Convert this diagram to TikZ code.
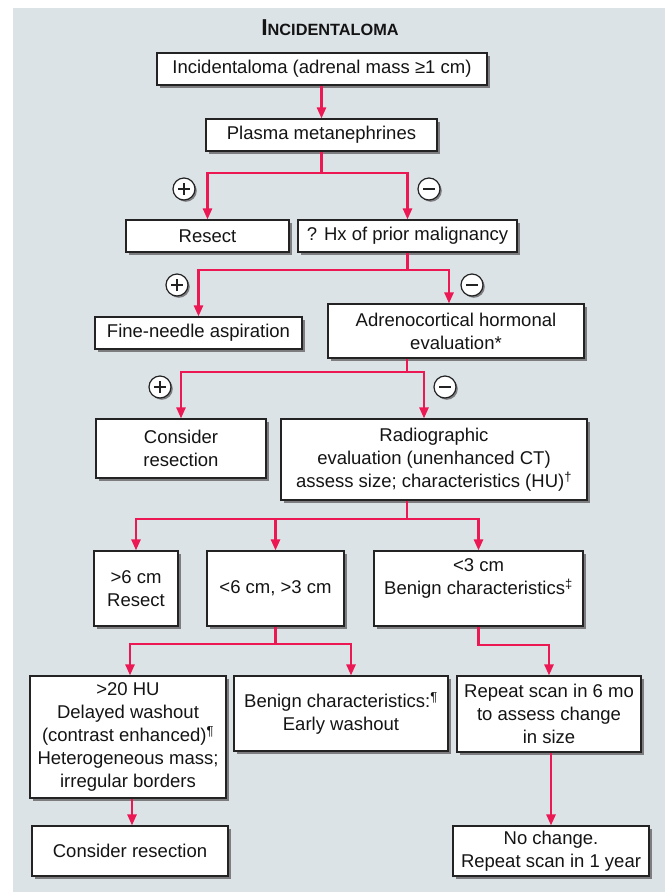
\documentclass[tikz,border=0pt]{standalone}
\usepackage{fontspec}
\setmainfont{Liberation Sans}
\usetikzlibrary{arrows.meta,shadows,calc}
\definecolor{panel}{RGB}{220,227,231}
\definecolor{flow}{RGB}{236,24,84}
\definecolor{boxline}{RGB}{35,35,35}
\definecolor{shadowgray}{RGB}{125,125,128}
\definecolor{txt}{RGB}{20,20,20}
\newcommand{\boxfont}{\fontsize{18.5}{23}\selectfont}
\tikzset{
  box/.style={draw=boxline, line width=1.1pt, fill=white, inner sep=0pt, align=center,
    font=\boxfont, text=txt,
    drop shadow={shadow xshift=2.5pt, shadow yshift=-2.5pt, fill=shadowgray, opacity=1}},
  arr/.style={draw=flow, line width=2.4pt, -{Triangle[length=11pt,width=9pt]}},
  sign/.style={circle, draw=boxline, line width=1.2pt, fill=white, minimum size=22pt, inner sep=0pt,
    drop shadow={shadow xshift=1.8pt, shadow yshift=-1.8pt, fill=shadowgray, opacity=1}},
  plussign/.style={sign, path picture={
    \draw[line width=2.6pt, boxline] ([xshift=-6pt]path picture bounding box.center) -- ([xshift=6pt]path picture bounding box.center);
    \draw[line width=2.6pt, boxline] ([yshift=-6pt]path picture bounding box.center) -- ([yshift=6pt]path picture bounding box.center);}},
  minussign/.style={sign, path picture={
    \draw[line width=2.6pt, boxline] ([xshift=-6pt]path picture bounding box.center) -- ([xshift=6pt]path picture bounding box.center);}}
}
\begin{document}
\begin{tikzpicture}[x=1pt,y=-1pt]
\useasboundingbox (0,0) rectangle (665,892);
\fill[panel] (13,7.5) rectangle (665,892);

\node[anchor=base, text=txt, font=\bfseries] (title) at (330,35)
  {\fontsize{23}{23}\selectfont I\fontsize{16.3}{16}\selectfont NCIDENTALOMA};

% boxes
\node[box, minimum width=330pt, minimum height=32pt] (b1) at (322,69) {Incidentaloma (adrenal mass ≥1 cm)};
\node[box, minimum width=231pt, minimum height=32pt] (b2) at (321.5,135) {Plasma metanephrines};
\node[box, minimum width=163pt, minimum height=32pt] (resect) at (207.5,236) {Resect};
\node[box, minimum width=219pt, minimum height=32pt] (hx) at (407.5,236) {? Hx of prior malignancy};
\node[box, minimum width=207pt, minimum height=32pt] (fna) at (198.5,333) {Fine-needle aspiration};
\node[box, minimum width=256pt, minimum height=54pt] (adreno) at (456,331) {Adrenocortical hormonal\\evaluation*};
\node[box, minimum width=170pt, minimum height=59pt] (cons1) at (181,448.5) {Consider\\resection};
\node[box, minimum width=306pt, minimum height=81pt] (radio) at (434,459.5) {Radiographic\\evaluation (unenhanced CT)\\assess size; characteristics (HU)\textsuperscript{†}};
\node[box, minimum width=84pt, minimum height=75pt] (gt6) at (136,588.5) {>6 cm\\Resect};
\node[box, minimum width=137pt, minimum height=75pt] (mid) at (275.5,588.5) {<6 cm, >3 cm};
\node[box, minimum width=209pt, minimum height=75pt] (lt3) at (478.5,588.5) {<3 cm\\Benign characteristics\textsuperscript{‡}\\\mbox{}};
\node[box, minimum width=196pt, minimum height=122pt] (hu) at (128,737) {>20 HU\\Delayed washout\\(contrast enhanced)\textsuperscript{¶}\\Heterogeneous mass;\\irregular borders};
\node[box, minimum width=214pt, minimum height=75pt] (benign) at (341,713.5) {Benign characteristics:\textsuperscript{¶}\\Early washout};
\node[box, minimum width=184pt, minimum height=76pt] (repeat) at (549,714) {Repeat scan in 6 mo\\to assess change\\in size};
\node[box, minimum width=196pt, minimum height=50pt] (cons2) at (130,851) {Consider resection};
\node[box, minimum width=196pt, minimum height=50pt] (nochange) at (551,851) {No change.\\Repeat scan in 1 year};

% signs
\node[plussign] (p1) at (184,189) {};
\node[minussign] (m1) at (429,189) {};
\node[plussign] (p2) at (177,285) {};
\node[minussign] (m2) at (472,285) {};
\node[plussign] (p3) at (160,387) {};
\node[minussign] (m3) at (445,387) {};

% connectors
\draw[arr] (b1.south -| b2.north) -- (b2.north);
\draw[arr] (b2.south) -- (b2.south |- 0,173) -| (resect.north);
\draw[arr] (b2.south) -- (b2.south |- 0,173) -| (hx.north);

\draw[arr] (hx.south) -- (hx.south |- 0,270) -| (fna.north);
\draw[arr] (hx.south) -- (hx.south |- 0,270) -| ([xshift=-7pt]adreno.north);

\draw[arr] ([xshift=-49pt]adreno.south) -- ([xshift=-49pt]adreno.south |- 0,372) -| (cons1.north);
\draw[arr] ([xshift=-49pt]adreno.south) -- ([xshift=-49pt]adreno.south |- 0,372) -| ([xshift=-10pt]radio.north);

\draw[arr] ([xshift=-27pt]radio.south) -- ([xshift=-27pt]radio.south |- 0,519) -| (gt6.north);
\draw[arr] ([xshift=-27pt]radio.south) -- ([xshift=-27pt]radio.south |- 0,519) -| (mid.north);
\draw[arr] ([xshift=-27pt]radio.south) -- ([xshift=-27pt]radio.south |- 0,519) -| (lt3.north);

\draw[arr] (mid.south) -- (mid.south |- 0,644) -| ([xshift=2pt]hu.north);
\draw[arr] (mid.south) -- (mid.south |- 0,644) -| ([xshift=10pt]benign.north);

\draw[arr] (lt3.south) -- (lt3.south |- 0,645) -| (repeat.north);

\draw[arr] ([xshift=4pt]hu.south) -- ([xshift=4pt]hu.south |- cons2.north);
\draw[arr] (nochange.north |- repeat.south) -- (nochange.north);
\end{tikzpicture}
\end{document}
